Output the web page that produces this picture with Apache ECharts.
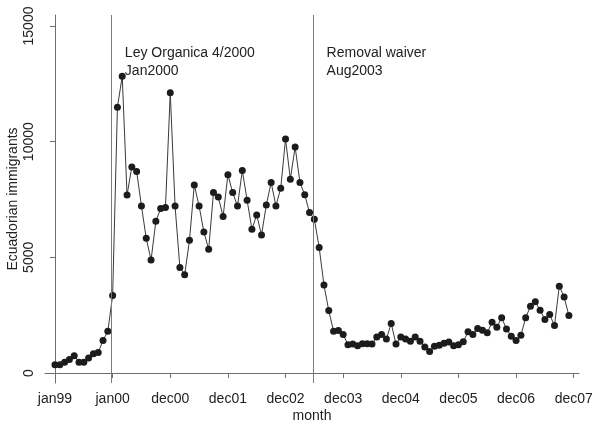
<!DOCTYPE html>
<html>
<head>
<meta charset="utf-8">
<script src="https://cdn.jsdelivr.net/npm/echarts@6/dist/echarts.min.js"></script>
<style>
html,body{margin:0;padding:0;background:#fff;}
#chart{width:595px;height:423px;}
</style>
</head>
<body>
<div id="chart"></div>
<script>
// Monthly Ecuadorian immigrants, jan1999 .. dec2007 (index 0..107)
var immigrants = [
  360, 360, 460, 580, 750, 460, 460, 650, 835, 890, 1410, 1800,
  3350, 11490, 12830, 7690, 8910, 8710, 7220, 5820, 4880, 6560, 7110, 7150,
  12110, 7220, 4565, 4250, 5735, 8130, 7220, 6100, 5345, 7800, 7610, 6760,
  8570, 7800, 7220, 8755, 7470, 6210, 6830, 5965, 7265, 8235, 7220, 7990,
  10115, 8380, 9770, 8235, 7700, 6935, 6645, 5430, 3800, 2700, 1805, 1840,
  1660, 1225, 1250, 1180, 1270, 1270, 1250, 1560, 1660, 1470, 2140, 1250,
  1560, 1470, 1370, 1560, 1370, 1125, 935, 1155, 1200, 1290, 1340, 1180,
  1225, 1350, 1780, 1660, 1920, 1850, 1735, 2195, 1980, 2385, 1905, 1590,
  1400, 1630, 2385, 2890, 3075, 2715, 2310, 2525, 2050, 3755, 3280, 2485
];
var xTickValues = [0, 12, 24, 36, 48, 60, 72, 84, 96, 108];
var xTickLabels = ['jan99', 'jan00', 'dec00', 'dec01', 'dec02', 'dec03', 'dec04', 'dec05', 'dec06', 'dec07'];
var yTickValues = [0, 5000, 10000, 15000];
var eventMonths = [11.8, 53.8];
var eventTexts = ['Ley Organica 4/2000\nJan2000', 'Removal waiver\nAug2003'];

var FONT = "'Liberation Sans', Arial, Helvetica, sans-serif";
var AXIS_COLOR = '#6e6e6e';
var TEXT_COLOR = '#222';

var seriesData = immigrants.map(function (v, i) { return [i, v]; });

var chart = echarts.init(document.getElementById('chart'), null, {renderer: 'canvas'});
chart.setOption({
  animation: false,
  backgroundColor: '#fff',
  grid: {left: 45, right: 16, top: 15, bottom: 40, containLabel: false, outerBoundsMode: 'none'},
  xAxis: {
    type: 'value',
    min: -2.08,
    max: 109.1,
    name: 'month',
    nameLocation: 'middle',
    nameGap: 26,
    nameMoveOverlap: false,
    nameTextStyle: {fontFamily: FONT, fontSize: 14, color: TEXT_COLOR},
    axisLine: {show: true, lineStyle: {color: AXIS_COLOR, width: 1}},
    axisTick: {show: true, customValues: xTickValues, length: 5, lineStyle: {color: AXIS_COLOR}},
    axisLabel: {
      customValues: xTickValues,
      margin: 9,
      hideOverlap: false,
      fontFamily: FONT, fontSize: 14, color: TEXT_COLOR,
      formatter: function (v) {
        var k = xTickValues.indexOf(v);
        return k >= 0 ? xTickLabels[k] : '';
      }
    },
    splitLine: {show: false}
  },
  yAxis: {
    type: 'value',
    min: -432,
    max: 15475,
    name: 'Ecuadorian immigrants',
    nameLocation: 'middle',
    nameGap: 25,
    nameMoveOverlap: false,
    nameTextStyle: {fontFamily: FONT, fontSize: 14, color: TEXT_COLOR},
    axisLine: {show: true, lineStyle: {color: AXIS_COLOR, width: 1}},
    axisTick: {show: true, customValues: yTickValues, length: 5, lineStyle: {color: AXIS_COLOR}},
    axisLabel: {
      customValues: yTickValues,
      rotate: 90,
      margin: 9,
      fontFamily: FONT, fontSize: 14, color: TEXT_COLOR,
      formatter: function (v) { return String(v); }
    },
    splitLine: {show: false}
  },
  series: [
    {
      type: 'line',
      data: seriesData,
      symbol: 'circle',
      symbolSize: 7,
      showSymbol: true,
      itemStyle: {color: '#1c1c1c'},
      lineStyle: {color: '#3a3a3a', width: 1},
      z: 3,
      markLine: {
        silent: true,
        symbol: ['none', 'none'],
        label: {show: false},
        lineStyle: {color: '#7a7a7a', width: 1, type: 'solid'},
        data: eventMonths.map(function (m) { return {xAxis: m}; })
      }
    },
    {
      type: 'scatter',
      data: [],
      markPoint: {
        symbol: 'circle',
        symbolSize: 0,
        silent: true,
        label: {
          show: true,
          position: 'right',
          distance: 0,
          align: 'left',
          fontFamily: FONT,
          fontSize: 14,
          lineHeight: 18.5,
          color: TEXT_COLOR,
          formatter: function (p) { return p.name; }
        },
        data: eventMonths.map(function (m, i) {
          return {name: eventTexts[i], coord: [m + 2.75, 13440]};
        })
      }
    }
  ]
});
</script>
</body>
</html>
